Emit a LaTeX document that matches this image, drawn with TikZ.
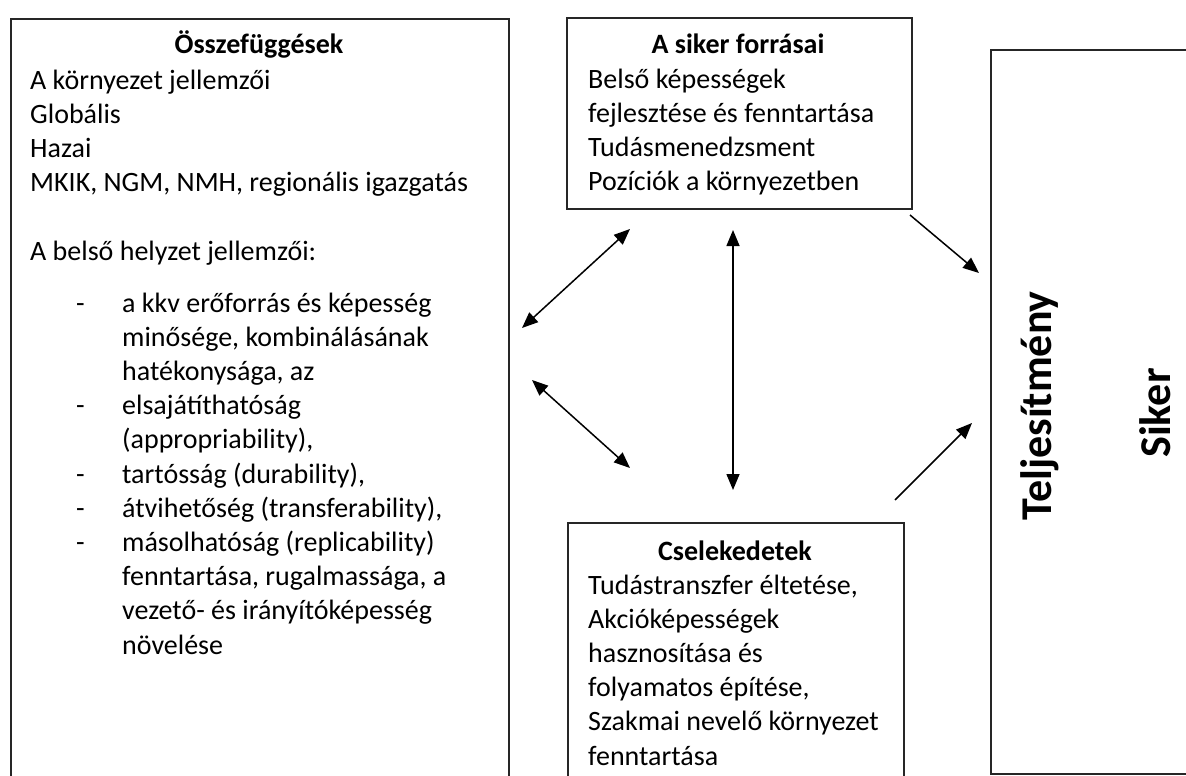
\documentclass[tikz,border=0pt]{standalone}
\usepackage{fontspec}
\setmainfont{Carlito}
\usetikzlibrary{arrows.meta}
\tikzset{
  frame/.style={draw=black!85, line width=1.6pt, inner sep=0pt, anchor=north west},
  txt/.style={font=\fontsize{28}{34.2}\selectfont, inner sep=0pt},
  ttl/.style={font=\fontsize{28}{34.2}\selectfont\bfseries, inner sep=0pt, anchor=base},
  side/.style={font=\fontsize{44}{52}\selectfont\bfseries, inner sep=0pt, rotate=90, anchor=base},
  twoway/.style={line width=1.5pt,
    {Triangle[length=16pt,width=13pt]}-{Triangle[length=16pt,width=13pt]}},
  oneway/.style={line width=1.5pt, -{Triangle[length=16pt,width=13pt]}},
}

\begin{document}
\begin{tikzpicture}[x=1pt, y=-1pt]
  \useasboundingbox[fill=white] (0,0) rectangle (1186,776);
  \clip (0,0) rectangle (1186,776);

  % frames
  \node[frame, minimum width=498pt, minimum height=800pt] (ctx) at (10,18) {};
  \node[frame, minimum width=345pt, minimum height=191pt] (src) at (566,17) {};
  \node[frame, minimum width=336pt, minimum height=300pt] (act) at (567,522) {};
  \node[frame, minimum width=240pt, minimum height=724pt] (res) at (990,49) {};

  % left box
  \node[ttl] (ctxttl) at (259,54) {Összefüggések};
  \node[txt, anchor=north west] (ctxenv) at (30,65) {%
    \begin{tabular}{@{}l@{}}
      A környezet jellemzői\\
      Globális\\
      Hazai\\
      MKIK, NGM, NMH, regionális igazgatás\\
      \\
      A belső helyzet jellemzői:
    \end{tabular}};
  \node[txt, anchor=north west] (ctxlist) at (76,288) {%
    \begin{tabular}{@{}p{46pt}@{}l@{}}
      - & a kkv erőforrás és képesség\\
        & minősége, kombinálásának\\
        & hatékonysága, az\\
      - & elsajátíthatóság\\
        & (appropriability),\\
      - & tartósság (durability),\\
      - & átvihetőség (transferability),\\
      - & másolhatóság (replicability)\\
        & fenntartása, rugalmassága, a\\
        & vezető- és irányítóképesség\\
        & növelése
    \end{tabular}};

  % top box
  \node[ttl] (srcttl) at (738,54) {A siker forrásai};
  \node[txt, anchor=north west] (srctxt) at (588,64) {%
    \begin{tabular}{@{}l@{}}
      Belső képességek\\
      fejlesztése és fenntartása\\
      Tudásmenedzsment\\
      Pozíciók a környezetben
    \end{tabular}};

  % bottom box
  \node[ttl] (actttl) at (735,560) {Cselekedetek};
  \node[txt, anchor=north west] (acttxt) at (588,570) {%
    \begin{tabular}{@{}l@{}}
      Tudástranszfer éltetése,\\
      Akcióképességek\\
      hasznosítása és\\
      folyamatos építése,\\
      Szakmai nevelő környezet\\
      fenntartása
    \end{tabular}};

  % right box
  \node[side] (perf) at (1051,406) {Teljesítmény};
  \node[side] (win) at (1170,413) {Siker};

  % arrows
  \coordinate (ul1) at (522,328);
  \coordinate (ul2) at (630,229);
  \coordinate (ll1) at (532,380);
  \coordinate (ll2) at (630,468);
  \coordinate (mid1) at (733,230);
  \coordinate (mid2) at (733,490);
  \coordinate (ur1) at (910,215);
  \coordinate (ur2) at (979,273);
  \coordinate (lr1) at (895,500);
  \coordinate (lr2) at (972,423);
  \draw[twoway] (ul1) -- (ul2);
  \draw[twoway] (ll1) -- (ll2);
  \draw[twoway] (mid1) -- (mid2);
  \draw[oneway] (ur1) -- (ur2);
  \draw[oneway] (lr1) -- (lr2);
\end{tikzpicture}
\end{document}
